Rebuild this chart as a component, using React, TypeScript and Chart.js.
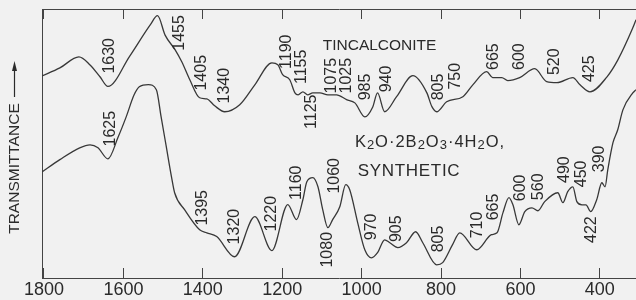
import React, { useEffect, useRef } from 'react';
import { Chart, registerables } from 'chart.js';

Chart.register(...registerables);

// ---- Data (wavenumber cm^-1, relative transmittance 0-100) ----
const xTickValues = [1800, 1600, 1400, 1200, 1000, 800, 600, 400];

const tincalWavenumber = [
  1805, 1760, 1712, 1684, 1659, 1639, 1584, 1532, 1514, 1495, 1470, 1453, 1433, 1408, 1390, 1370,
  1345, 1307, 1269, 1226, 1211, 1199, 1181, 1168, 1160, 1148, 1136, 1123, 1105, 1085, 1063, 1038,
  1017, 992, 972, 960, 942, 912, 871, 836, 823, 811, 786, 745, 720, 685, 670, 647, 632, 602, 564,
  534, 508, 468, 450, 425, 382, 355, 317, 309,
];
const tincalTransmittance = [
  75.1, 78.1, 82.2, 79.2, 74.8, 71.2, 82.5, 94.2, 97.5, 90.3, 84.9, 80.4, 73.8, 67.0, 66.6, 64.0,
  61.8, 64.4, 71.8, 80.0, 79.3, 75.6, 73.7, 68.8, 68.1, 69.2, 68.1, 68.8, 68.8, 68.1, 68.1, 66.3,
  65.1, 59.9, 63.6, 68.8, 61.8, 67.4, 75.2, 68.9, 63.7, 61.8, 65.5, 67.4, 71.8, 76.7, 74.5, 74.5,
  73.4, 74.5, 77.8, 73.0, 72.6, 74.5, 71.8, 69.2, 74.8, 81.0, 93.0, 96.0,
];

const synWavenumber = [
  1805, 1760, 1710, 1684, 1664, 1639, 1613, 1593, 1573, 1560, 1537, 1517, 1505, 1492, 1479, 1471,
  1446, 1408, 1390, 1365, 1320, 1269, 1226, 1186, 1164, 1148, 1138, 1123, 1110, 1098, 1085, 1073,
  1055, 1040, 1030, 1010, 992, 975, 960, 942, 929, 909, 887, 864, 846, 811, 796, 771, 753, 710,
  673, 659, 644, 629, 619, 604, 589, 571, 556, 539, 506, 493, 481, 468, 458, 445, 435, 423, 408,
  395, 387, 380, 367, 355, 342, 317, 309,
];
const synTransmittance = [
  39.4, 44.0, 48.4, 49.5, 48.4, 44.3, 52.5, 59.9, 68.1, 71.1, 71.9, 70.0, 59.9, 48.8, 37.7, 31.7,
  25.4, 17.9, 16.8, 15.4, 7.9, 22.8, 10.2, 27.3, 21.7, 29.1, 35.8, 37.3, 33.9, 25.4, 18.7, 21.7,
  26.5, 34.7, 32.8, 20.6, 10.5, 7.5, 9.4, 14.2, 13.1, 11.3, 13.1, 17.2, 13.1, 4.9, 5.7, 12.4, 16.8,
  10.5, 16.1, 16.8, 24.3, 29.9, 27.2, 19.8, 24.7, 26.1, 25.0, 28.4, 31.7, 28.0, 32.1, 33.9, 28.4,
  27.2, 27.2, 24.7, 29.1, 35.4, 33.9, 40.3, 50.3, 55.1, 62.5, 68.8, 70.0,
];

// Band labels: text, anchor wavenumber, anchor transmittance
const tincalBandText = ['1630', '1455', '1405', '1340', '1190', '1155', '1125', '1075', '1025', '985', '940', '805', '750', '665', '600', '520', '425'];
const tincalBandX = [1634, 1458, 1403, 1345, 1188, 1151, 1125, 1076, 1038, 990, 937, 806, 763, 667, 602, 514, 425];
const tincalBandY = [82.6, 91.1, 76.3, 71.5, 84.1, 78.5, 61.8, 75.2, 75.2, 71.0, 74.0, 71.0, 75.0, 82.3, 82.3, 80.4, 77.8];

const synBandText = ['1625', '1395', '1320', '1220', '1160', '1080', '1060', '970', '905', '805', '710', '665', '600', '560', '490', '450', '390', '422'];
const synBandX = [1632, 1400, 1320, 1226, 1164, 1085, 1067, 975, 911, 807, 707, 667, 599, 554, 490, 447, 400, 420];
const synBandY = [55.5, 26.1, 19.1, 23.9, 35.4, 10.5, 38.0, 19.0, 18.3, 14.5, 19.7, 26.4, 33.5, 33.9, 40.3, 38.7, 44.3, 18.0];

const seriesTitle1 = 'TINCALCONITE';
const seriesTitle1Pos = [1098, 84.8];
const formulaParts = [
  ['K', 0], ['2', 1], ['O·2B', 0], ['2', 1], ['O', 0], ['3', 1], ['·4H', 0], ['2', 1], ['O,', 0],
];
const formulaPos = [1017, 48.7];
const seriesTitle2 = 'SYNTHETIC';
const seriesTitle2Pos = [1010, 37.9];
const yTitle = 'TRANSMITTANCE';

const INK = '#2a2a2a';
const LINE = '#383838';
const FONT = '"Liberation Sans", Arial, sans-serif';

const annotationPlugin = {
  id: 'irAnnotations',
  beforeDraw(chart: any) {
    const ctx = chart.ctx;
    ctx.save();
    ctx.fillStyle = '#f1f1f1';
    ctx.fillRect(0, 0, chart.width, chart.height);
    ctx.restore();
  },
  afterDatasetsDraw(chart: any) {
    const ctx = chart.ctx;
    const xs = chart.scales.x;
    const ys = chart.scales.y;
    ctx.save();
    ctx.fillStyle = INK;
    ctx.font = `16px ${FONT}`;
    ctx.textAlign = 'center';
    ctx.textBaseline = 'middle';
    const rot = (t: string, f: number, v: number) => {
      ctx.save();
      ctx.translate(xs.getPixelForValue(f), ys.getPixelForValue(v));
      ctx.rotate(-Math.PI / 2);
      ctx.fillText(t, 0, 0);
      ctx.restore();
    };
    tincalBandText.forEach((t, i) => rot(t, tincalBandX[i], tincalBandY[i]));
    synBandText.forEach((t, i) => rot(t, synBandX[i], synBandY[i]));

    // series titles
    ctx.textAlign = 'left';
    ctx.textBaseline = 'alphabetic';
    ctx.font = `15.5px ${FONT}`;
    ctx.fillText(seriesTitle1, xs.getPixelForValue(seriesTitle1Pos[0]), ys.getPixelForValue(seriesTitle1Pos[1]));

    ctx.font = `17px ${FONT}`;
    (ctx as any).letterSpacing = '0.7px';
    ctx.fillText(seriesTitle2, xs.getPixelForValue(seriesTitle2Pos[0]), ys.getPixelForValue(seriesTitle2Pos[1]));

    let fx = xs.getPixelForValue(formulaPos[0]);
    const fy = ys.getPixelForValue(formulaPos[1]);
    (ctx as any).letterSpacing = '1px';
    formulaParts.forEach(([txt, sub]) => {
      const s = txt as string;
      if (sub) {
        ctx.font = `13px ${FONT}`;
        ctx.fillText(s, fx, fy + 2);
      } else {
        ctx.font = `16.5px ${FONT}`;
        ctx.fillText(s, fx, fy);
      }
      fx += ctx.measureText(s).width;
    });
    (ctx as any).letterSpacing = '0px';
    ctx.restore();
  },
  afterDraw(chart: any) {
    const ctx = chart.ctx;
    ctx.save();
    ctx.fillStyle = INK;
    ctx.strokeStyle = INK;
    ctx.font = `15.5px ${FONT}`;
    ctx.textAlign = 'center';
    ctx.textBaseline = 'middle';
    ctx.translate(15, 168.5);
    ctx.rotate(-Math.PI / 2);
    ctx.fillText(yTitle, 0, 0);
    ctx.restore();
    // arrow
    ctx.save();
    ctx.strokeStyle = INK;
    ctx.fillStyle = INK;
    ctx.lineWidth = 1.2;
    ctx.beginPath();
    ctx.moveTo(14.5, 97);
    ctx.lineTo(14.5, 68);
    ctx.stroke();
    ctx.beginPath();
    ctx.moveTo(14.5, 61);
    ctx.lineTo(12, 71);
    ctx.lineTo(17, 71);
    ctx.closePath();
    ctx.fill();
    ctx.restore();
  },
};

export default function App() {
  const ref = useRef<HTMLCanvasElement | null>(null);
  useEffect(() => {
    document.body.style.margin = '0';
    document.body.style.background = '#f1f1f1';
    if (!ref.current) return;
    const setTicks = (s: any) => {
      s.ticks = xTickValues.map((v) => ({ value: v }));
    };
    const chart = new Chart(ref.current, {
      type: 'line',
      data: {
        datasets: [
          {
            label: 'Tincalconite',
            data: tincalWavenumber.map((f, i) => ({ x: f, y: tincalTransmittance[i] })),
            borderColor: LINE,
            borderWidth: 1.3,
            pointRadius: 0,
            fill: false,
            cubicInterpolationMode: 'monotone',
          },
          {
            label: 'K2O·2B2O3·4H2O synthetic',
            data: synWavenumber.map((f, i) => ({ x: f, y: synTransmittance[i] })),
            borderColor: LINE,
            borderWidth: 1.3,
            pointRadius: 0,
            fill: false,
            cubicInterpolationMode: 'monotone',
          },
        ],
      },
      options: {
        animation: false,
        responsive: false,
        devicePixelRatio: 1,
        layout: { padding: 0 },
        plugins: { legend: { display: false }, tooltip: { enabled: false } },
        scales: {
          x: {
            type: 'linear',
            position: 'bottom',
            reverse: true,
            min: 309,
            max: 1805,
            afterBuildTicks: setTicks,
            afterFit: (s: any) => {
              s.height = 22;
            },
            ticks: {
              autoSkip: false,
              maxRotation: 0,
              padding: 11,
              color: INK,
              font: { family: FONT, size: 18 },
              callback: (v: any) => String(v),
            },
            grid: { drawOnChartArea: false, drawTicks: true, tickLength: -10, color: '#444', lineWidth: 1 },
            border: { display: true, color: '#444', width: 1 },
          },
          x2: {
            type: 'linear',
            position: 'top',
            reverse: true,
            min: 309,
            max: 1805,
            afterBuildTicks: setTicks,
            afterFit: (s: any) => {
              s.height = 9;
            },
            ticks: { display: false },
            grid: { drawOnChartArea: false, drawTicks: true, tickLength: -10, color: '#444', lineWidth: 1 },
            border: { display: true, color: '#444', width: 1 },
          },
          y: {
            type: 'linear',
            min: 0,
            max: 100,
            afterFit: (s: any) => {
              s.width = 42;
            },
            ticks: { display: false },
            grid: { display: false },
            border: { display: true, color: '#444', width: 1 },
          },
        },
      } as any,
      plugins: [annotationPlugin],
    });
    return () => chart.destroy();
  }, []);
  return (
    <div style={{ position: 'absolute', left: 0, top: 0, width: 636, height: 300 }}>
      <canvas ref={ref} width={636} height={300} />
    </div>
  );
}
